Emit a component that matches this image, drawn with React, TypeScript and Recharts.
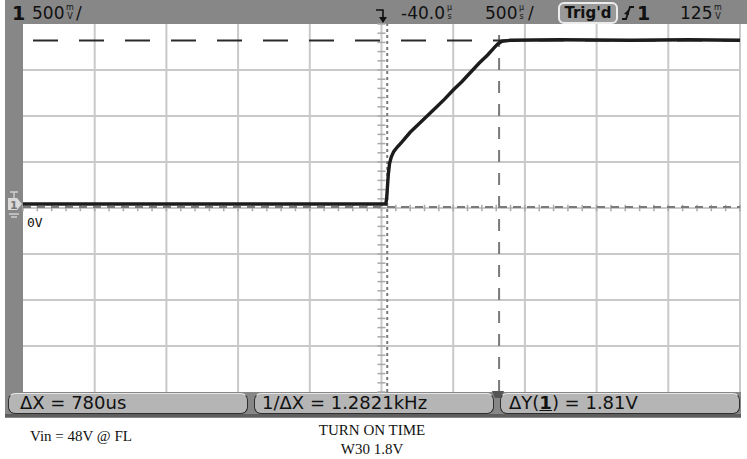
import { LineChart, Line, XAxis, YAxis, ReferenceLine } from 'recharts';

// Channel 1 trace: time in µs (trigger at 0), volts
const traceTime = [-2540, -10, -4, 2, 8, 16, 28, 45, 70, 100, 160, 220, 280, 340, 400, 460, 520, 580, 640, 700, 740, 770, 800, 860, 1200, 1700, 2100, 2460];
const traceVolts = [0, 0, 0.06, 0.2, 0.33, 0.44, 0.51, 0.57, 0.62, 0.67, 0.78, 0.87, 0.96, 1.05, 1.14, 1.24, 1.33, 1.43, 1.53, 1.62, 1.69, 1.74, 1.77, 1.78, 1.785, 1.78, 1.785, 1.78];

// 500 µs/div centred at -40 µs, 500 mV/div
const xDomain = [-2540, 2460];
const yDomain = [-2.043, 1.957];
const xGrid = [-2040, -1540, -1040, -540, -40, 460, 960, 1460, 1960, 2460];
const yGrid = [-1.543, -1.043, -0.543, -0.043, 0.457, 0.957, 1.457];
const xCenter = -40;
const yCenter = -0.043;

// measurement cursors
const xCursors = [0, 780];
const yCursors = [-0.033, 1.777];

const softkeys = ['ΔX = 780us', '1/ΔX = 1.2821kHz', 'ΔY(1) = 1.81V'];
const softkeyLeft = [8, 254, 500];

const data = traceTime.map((t, i) => ({ t, v: traceVolts[i] }));

// minor ticks on the centre axes, 5 per division
const xMinor: number[] = [];
for (let t = xDomain[0]; t <= xDomain[1]; t += 100) xMinor.push(t);
const yMinor: number[] = [];
for (let v = yDomain[0]; v <= yDomain[1] + 0.001; v += 0.1) yMinor.push(+v.toFixed(3));

const FRAME = '#878787';
const GRID = '#c9c9c9';
const CURSOR = '#7a7a7a';
const TRACE = '#1c1c1c';

function Unit({ x, a, b }: { x: number; a: string; b: string }) {
  return (
    <div style={{ position: 'absolute', left: x, top: 3, fontSize: 8, lineHeight: '9.4px', textAlign: 'center', color: '#111' }}>
      <div>{a}</div>
      <div>{b}</div>
    </div>
  );
}

function Txt({ x, y, size = 17, bold = false, children }: { x: number; y: number; size?: number; bold?: boolean; children: any }) {
  return (
    <div style={{ position: 'absolute', left: x, top: y, fontSize: size, lineHeight: `${size}px`, fontWeight: bold ? 'bold' : 'normal', color: '#111', whiteSpace: 'nowrap' }}>
      {children}
    </div>
  );
}

export default function App() {
  return (
    <div style={{ position: 'absolute', left: 0, top: 0, width: 747, height: 459, background: '#fff', overflow: 'hidden', fontFamily: '"DejaVu Sans", sans-serif' }}>
      {/* scope frame */}
      <div style={{ position: 'absolute', left: 5, top: 0, width: 742, height: 24, background: FRAME }} />
      <div style={{ position: 'absolute', left: 5, top: 0, width: 18, height: 418, background: FRAME }} />
      <div style={{ position: 'absolute', left: 5, top: 392, width: 736, height: 26, background: FRAME }} />
      <div style={{ position: 'absolute', left: 5, top: 414, width: 736, height: 3, background: '#5e5e5e' }} />

      <div style={{ position: 'absolute', left: 0, top: 0 }}>
        <LineChart width={747} height={459} data={data} margin={{ top: 24, right: 7, bottom: 67, left: 23 }}>
          <XAxis dataKey="t" type="number" domain={xDomain} allowDataOverflow hide />
          <YAxis type="number" domain={yDomain} allowDataOverflow hide />
          {xGrid.map((x) => (
            <ReferenceLine key={'gx' + x} x={x} stroke={GRID} strokeWidth={2} />
          ))}
          {yGrid.map((y) => (
            <ReferenceLine key={'gy' + y} y={y} stroke={GRID} strokeWidth={2} />
          ))}
          {xMinor.map((t) => (
            <ReferenceLine key={'mx' + t} segment={[{ x: t, y: yCenter - 0.035 }, { x: t, y: yCenter + 0.035 }]} stroke="#a9a9a9" strokeWidth={1.5} />
          ))}
          {yMinor.map((v) => (
            <ReferenceLine key={'my' + v} segment={[{ x: xCenter - 28, y: v }, { x: xCenter + 28, y: v }]} stroke="#a9a9a9" strokeWidth={1.5} />
          ))}
          <ReferenceLine x={xCursors[0]} stroke={CURSOR} strokeWidth={2} strokeDasharray="3 3" />
          <ReferenceLine x={xCursors[1]} stroke={CURSOR} strokeWidth={2} strokeDasharray="12 11" />
          <ReferenceLine y={yCursors[0]} stroke={CURSOR} strokeWidth={2} strokeDasharray="8 6" />
          <ReferenceLine y={yCursors[1]} stroke="#2a2a2a" strokeWidth={2} strokeDasharray="25 21" strokeDashoffset={36} />
          <Line dataKey="v" type="linear" stroke={TRACE} strokeWidth={3.4} dot={false} isAnimationActive={false} />
        </LineChart>
      </div>

      {/* top status line */}
      <Txt x={12} y={4} size={19} bold>1</Txt>
      <Txt x={32} y={5}>500</Txt>
      <Unit x={66} a="m" b="V" />
      <Txt x={76} y={5}>/</Txt>
      <svg style={{ position: 'absolute', left: 374, top: 6 }} width={14} height={18}>
        <path d="M2 4 H9 V14" stroke="#111" strokeWidth={1.6} fill="none" />
        <path d="M5 11 L9 17 L13 11 Z" fill="#111" />
      </svg>
      <Txt x={401} y={5}>-40.0</Txt>
      <Unit x={447} a="µ" b="s" />
      <Txt x={485} y={5}>500</Txt>
      <Unit x={519} a="µ" b="s" />
      <Txt x={528} y={5}>/</Txt>
      <div style={{ position: 'absolute', left: 558, top: 2, width: 56, height: 18, border: '2px solid #ececec', borderRadius: 6, background: '#999', fontSize: 15, lineHeight: '18px', fontWeight: 'bold', textAlign: 'center', color: '#111' }}>
        Trig'd
      </div>
      <svg style={{ position: 'absolute', left: 621, top: 5 }} width={14} height={16}>
        <path d="M1 14 H5 L9 2 H13" stroke="#111" strokeWidth={1.8} fill="none" />
        <path d="M3 9 L7 5 L8 10 Z" fill="#111" />
      </svg>
      <Txt x={637} y={4} size={19} bold>1</Txt>
      <Txt x={680} y={5}>125</Txt>
      <Unit x={714} a="m" b="V" />

      {/* ground reference marker */}
      <svg style={{ position: 'absolute', left: 6, top: 190 }} width={17} height={30}>
        <path d="M2 8 H11 L16 14 L11 20 H2 Z" fill="#d9d9d9" />
        <text x={4} y={19} fontSize={11} fontWeight="bold" fill="#777">1</text>
        <path d="M4 2 H12 M8 2 V8 M3 24 H13 M5 27 H11" stroke="#cfcfcf" strokeWidth={1.4} />
      </svg>
      <Txt x={27} y={216} size={13}><span style={{ fontFamily: '"DejaVu Sans Mono", monospace' }}>0V</span></Txt>

      {/* X2 cursor marker on the softkey bar */}
      <svg style={{ position: 'absolute', left: 492, top: 391 }} width={12} height={8}>
        <path d="M0 0 H12 L9 7 H3 Z" fill="#555" />
      </svg>

      {/* softkey measurement boxes */}
      {softkeys.map((s, i) => (
        <div
          key={s}
          style={{
            position: 'absolute',
            left: softkeyLeft[i],
            top: 393,
            width: 240,
            height: 21,
            boxSizing: 'border-box',
            background: '#b5b5b5',
            border: '1.5px solid #2e2e2e',
            borderTopColor: '#e6e6e6',
            borderRadius: 7,
            fontSize: 18,
            lineHeight: '18px',
            paddingLeft: [11, 7, 8][i],
            color: '#111',
            whiteSpace: 'nowrap',
          }}
        >
          {i === 2 ? (
            <>
              ΔY(<span style={{ fontWeight: 'bold', textDecoration: 'underline' }}>1</span>) = 1.81V
            </>
          ) : (
            s
          )}
        </div>
      ))}

      {/* caption */}
      <div style={{ position: 'absolute', left: 30, top: 428, fontFamily: '"Liberation Serif", serif', fontSize: 15, color: '#111', whiteSpace: 'nowrap' }}>
        Vin = 48V @ FL
      </div>
      <div style={{ position: 'absolute', left: 272, width: 200, top: 421, fontFamily: '"Liberation Serif", serif', fontSize: 15, lineHeight: '19px', color: '#111', textAlign: 'center' }}>
        <div>TURN ON TIME</div>
        <div>W30 1.8V</div>
      </div>
    </div>
  );
}
